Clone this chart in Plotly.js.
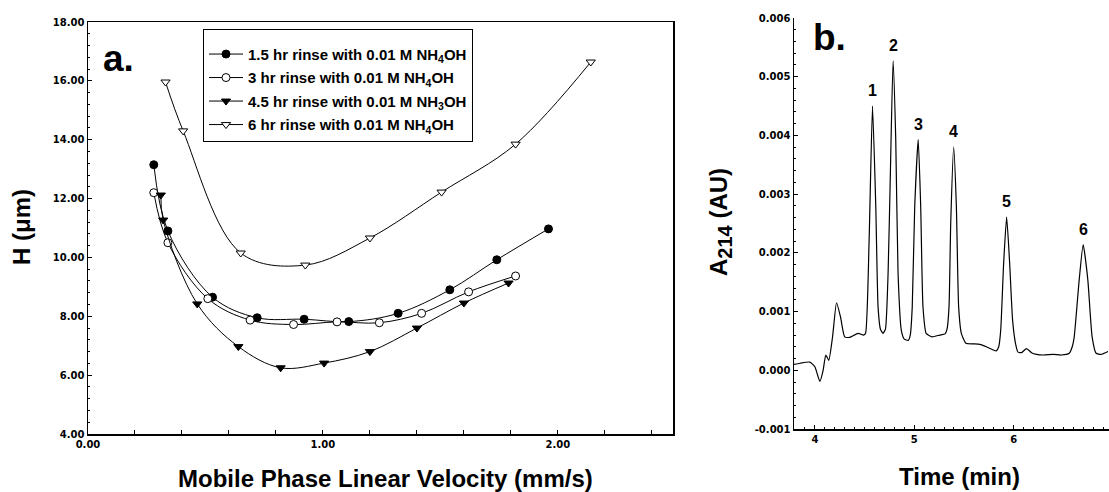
<!DOCTYPE html>
<html><head><meta charset="utf-8">
<script src="https://cdn.plot.ly/plotly-3.0.1.min.js"></script>
<style>html,body{margin:0;padding:0;background:#fff}#chart{width:1109px;height:492px}</style>
</head><body><div id="chart"></div>
<script>
// Panel a: plate height H (µm) vs mobile phase linear velocity (mm/s)
const seriesNames = [
  "1.5 hr rinse with 0.01 M NH<sub>4</sub>OH",
  "3 hr rinse with 0.01 M NH<sub>4</sub>OH",
  "4.5 hr rinse with 0.01 M NH<sub>3</sub>OH",
  "6 hr rinse with 0.01 M NH<sub>4</sub>OH"
];
const vel15 = [0.28, 0.34, 0.53, 0.72, 0.92, 1.11, 1.32, 1.54, 1.74, 1.96];
const h15   = [13.15, 10.9, 8.65, 7.95, 7.9, 7.82, 8.1, 8.9, 9.92, 10.97];
const vel3  = [0.28, 0.34, 0.51, 0.69, 0.875, 1.06, 1.24, 1.42, 1.62, 1.82];
const h3    = [12.2, 10.5, 8.6, 7.87, 7.72, 7.81, 7.78, 8.1, 8.83, 9.37];
const vel45 = [0.31, 0.32, 0.465, 0.64, 0.82, 1.005, 1.2, 1.4, 1.6, 1.79];
const h45   = [12.12, 11.27, 8.42, 6.97, 6.25, 6.41, 6.8, 7.6, 8.45, 9.13];
const vel6  = [0.33, 0.405, 0.65, 0.925, 1.2, 1.505, 1.82, 2.14];
const h6    = [15.96, 14.3, 10.15, 9.74, 10.66, 12.22, 13.85, 16.64];

// Panel b: electropherogram A214 (AU) vs time (min)
const timeMin = [3.79, 3.85, 3.95, 4.00, 4.05, 4.083, 4.11, 4.14, 4.178, 4.218, 4.258, 4.30, 4.35, 4.435, 4.49,
  4.51, 4.546, 4.58, 4.613, 4.636, 4.66, 4.686,
  4.71, 4.737, 4.76, 4.787, 4.814, 4.837, 4.87, 4.90, 4.94,
  4.96, 4.98, 5.005, 5.04, 5.065, 5.088, 5.12, 5.18, 5.256, 5.31,
  5.33, 5.35, 5.367, 5.397, 5.424, 5.447, 5.474, 5.52, 5.60, 5.66, 5.725, 5.79, 5.826, 5.85,
  5.87, 5.90, 5.93, 5.96, 5.99, 6.02, 6.044, 6.08, 6.13, 6.18, 6.23, 6.30, 6.40, 6.48, 6.56, 6.59,
  6.61, 6.66, 6.70, 6.747, 6.79, 6.83, 6.88, 6.95];
const absorb = [0.0001, 0.00012, 0.00014, 0.00006, -0.00019, 0.0, 0.00026, 0.00017, 0.00057, 0.00115, 0.00091, 0.00057, 0.00056, 0.00063, 0.0006,
  0.00063, 0.00222, 0.0045, 0.00279, 0.00108, 0.0007, 0.00063,
  0.0007, 0.00166, 0.00337, 0.00527, 0.00393, 0.00166, 0.00068, 0.00053, 0.00051,
  0.0006, 0.00108, 0.00279, 0.00393, 0.00279, 0.00108, 0.00063, 0.00057, 0.0006, 0.00062,
  0.0007, 0.00108, 0.0025, 0.0038, 0.00279, 0.00108, 0.00063, 0.00046, 0.00045, 0.00044, 0.0004, 0.00035, 0.00033, 0.0004,
  0.00068, 0.00183, 0.00261, 0.00183, 0.00085, 0.00045, 0.00031, 0.0003, 0.00037, 0.0003, 0.00027, 0.00026, 0.00027, 0.00026, 0.00029, 0.0004,
  0.00057, 0.00154, 0.00214, 0.00154, 0.00057, 0.00029, 0.00027, 0.00032];
const peakLabels = ["1", "2", "3", "4", "5", "6"];
const peakTimes  = [4.58, 4.787, 5.04, 5.397, 5.93, 6.70];
const peakHeights = [0.0045, 0.00527, 0.00393, 0.0038, 0.00261, 0.00214];

const FONT = "DejaVu Sans, Verdana, sans-serif";
const AFONT = "Liberation Sans, Arial, sans-serif";

function seriesTrace(x, y, name, symbol, fill, group) {
  return {
    x: x, y: y, name: name, type: "scatter", mode: "lines+markers",
    xaxis: "x", yaxis: "y", legendgroup: group,
    line: {color: "black", width: 1, shape: "spline", smoothing: 1},
    marker: {symbol: symbol, size: 8, color: fill, line: {color: "black", width: 1}}
  };
}

const traces = [
  seriesTrace(vel15, h15, seriesNames[0], "circle", "black", "g1"),
  seriesTrace(vel3, h3, seriesNames[1], "circle", "white", "g2"),
  seriesTrace(vel45, h45, seriesNames[2], "triangle-down", "black", "g3"),
  seriesTrace(vel6, h6, seriesNames[3], "triangle-down", "white", "g4"),
  {
    x: timeMin, y: absorb, type: "scatter", mode: "lines", xaxis: "x2", yaxis: "y2",
    showlegend: false, line: {color: "black", width: 1.2, shape: "spline", smoothing: 0.5}
  }
];

const tickFont = {family: FONT, size: 10, color: "black", weight: "bold"};
const titleFont = {family: AFONT, size: 24, weight: "bold", color: "black"};

function paperText(text, px, py, font, angle) {
  return {text: text, xref: "paper", yref: "paper", x: px/1109, y: 1 - py/492,
    xanchor: "center", yanchor: "middle", showarrow: false, textangle: angle || 0, font: font};
}

const annotations = [
  paperText("a.", 118, 59, {family: AFONT, size: 37, weight: "bold", color: "black"}),
  paperText("b.", 829, 37, {family: AFONT, size: 37, weight: "bold", color: "black"}),
  paperText("H (\u03bcm)", 21, 227, titleFont, -90),
  paperText("Mobile Phase Linear Velocity (mm/s)", 385, 478, titleFont),
  paperText("A<sub><span style='font-size:20px'>214</span></sub> (AU)", 721, 222, titleFont, -90),
  paperText("Time (min)", 959, 476, titleFont)
];
peakLabels.forEach((lab, i) => {
  annotations.push({text: lab, xref: "x2", yref: "y2", x: peakTimes[i], y: peakHeights[i],
    xanchor: "center", yanchor: "bottom", yshift: 5, showarrow: false,
    font: {family: AFONT, size: 16, weight: "bold", color: "black"}});
});

const layout = {
  width: 1109, height: 492,
  margin: {l: 0, r: 0, t: 0, b: 0},
  paper_bgcolor: "white", plot_bgcolor: "white",
  showlegend: true,
  legend: {
    x: 203/1109, y: 1 - 29/492, xanchor: "left", yanchor: "top",
    bordercolor: "black", borderwidth: 1, bgcolor: "white",
    font: {family: AFONT, size: 15, weight: "bold", color: "black"},
    title: {text: "\u00a0", font: {family: AFONT, size: 6, color: "white"}},
    tracegroupgap: 1, itemwidth: 34
  },
  xaxis: {
    domain: [88/1109, 673/1109], range: [0, 2.49],
    tickvals: [0, 0.2, 0.4, 0.6, 0.8, 1.0, 1.2, 1.4, 1.6, 1.8, 2.0, 2.2, 2.4],
    ticktext: ["0.00", "", "", "", "", "1.00", "", "", "", "", "2.00", "", ""],
    ticks: "inside", ticklen: 4, tickcolor: "black", tickwidth: 1,
    showline: true, linecolor: "black", linewidth: 1.5, mirror: true,
    showgrid: false, zeroline: false, tickfont: tickFont, anchor: "y"
  },
  yaxis: {
    domain: [58/492, 470/492], range: [4, 18],
    tickvals: [4, 6, 8, 10, 12, 14, 16, 18],
    ticktext: ["4.00", "6.00", "8.00", "10.00", "12.00", "14.00", "16.00", "18.00"],
    ticks: "inside", ticklen: 4, tickcolor: "black", tickwidth: 1,
    minor: {dtick: 0.4, ticks: "inside", ticklen: 2, tickcolor: "black"},
    showline: true, linecolor: "black", linewidth: 1.5, mirror: true,
    showgrid: false, zeroline: false, tickfont: tickFont, anchor: "x"
  },
  xaxis2: {
    domain: [794/1109, 1], range: [3.79, 6.96],
    tickvals: [4, 5, 6], ticktext: ["4", "5", "6"],
    ticks: "inside", ticklen: 4, tickcolor: "black",
    minor: {dtick: 0.1, ticks: "inside", ticklen: 2, tickcolor: "black"},
    showline: true, linecolor: "black", linewidth: 1.5, mirror: false,
    showgrid: false, zeroline: false, tickfont: tickFont, anchor: "y2"
  },
  yaxis2: {
    domain: [63/492, 474/492], range: [-0.001, 0.006],
    tickvals: [-0.001, 0, 0.001, 0.002, 0.003, 0.004, 0.005, 0.006],
    ticktext: ["-0.001", "0.000", "0.001", "0.002", "0.003", "0.004", "0.005", "0.006"],
    ticks: "inside", ticklen: 4, tickcolor: "black",
    minor: {dtick: 0.0002, ticks: "inside", ticklen: 2, tickcolor: "black"},
    showline: true, linecolor: "black", linewidth: 1.5, mirror: false,
    showgrid: false, zeroline: false, tickfont: tickFont, anchor: "x2"
  },
  annotations: annotations
};

Plotly.newPlot("chart", traces, layout, {displayModeBar: false, staticPlot: true});
</script>
</body></html>
